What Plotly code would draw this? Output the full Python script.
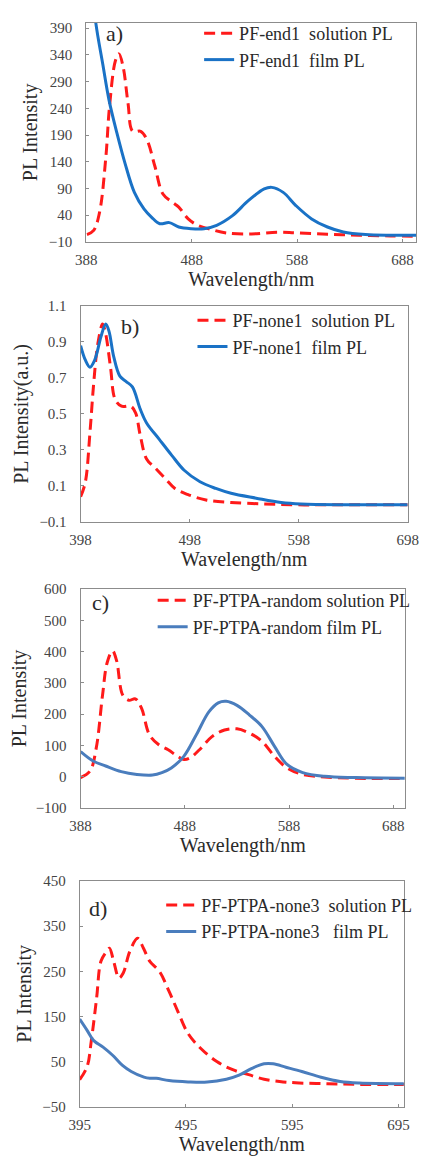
import plotly.graph_objects as go

# ---- panel a) PF-end1 ----
a_sol_x = [388.6, 395, 400.6, 406.6, 410, 415.6, 419, 423, 427.6, 432, 439.6, 445.6, 453, 460.7, 469.7,
           475.7, 484.7, 493.7, 505.7, 520.7, 544.8, 568.8, 586.8, 616.8, 646.9, 676.9, 701]
a_sol_y = [3.6, 11.6, 45.6, 150, 243, 329, 342, 317, 249, 197, 197, 181, 132, 79.5, 64,
           55, 33, 21, 13.5, 6.7, 4.8, 8, 6.7, 4.2, 2.3, 1.1, 0.5]
a_film_x = [393, 397, 403.6, 409.6, 417, 424.6, 433.6, 442.7, 450, 457.7, 466.7, 475.7, 487.7, 499.7,
            511.7, 526.7, 541.7, 556.8, 564, 574.8, 586.8, 601.8, 616.8, 631.8, 652.9, 676.9, 701]
a_film_y = [480, 400, 323, 255, 194, 138, 82.6, 51.7, 36, 24, 26, 17.8, 14.7, 14.7,
            21, 39, 67, 89, 92, 82.6, 58, 33, 17.8, 8.5, 3.6, 2.3, 2.3]

# ---- panel b) PF-none1 ----
b_sol_x = [398, 402.3, 406.6, 410, 413.8, 418.2, 421, 425.4, 429.7, 435.5, 444, 448.4, 452.8, 458.5,
           467, 475.8, 484.5, 496, 513, 536, 565, 594, 623, 698]
b_sol_y = [0.04, 0.12, 0.40, 0.67, 0.89, 1.0, 0.945, 0.76, 0.58, 0.543, 0.543, 0.506, 0.378, 0.25,
           0.196, 0.14, 0.086, 0.053, 0.022, 0.008, 0.0, -0.005, -0.005, -0.005]
b_film_x = [398, 402.3, 406.6, 411, 416.7, 421, 424, 428.3, 434, 439.8, 445.5, 452.8, 458.5, 470,
            481.6, 493, 507.5, 522, 536, 559, 582, 600, 698]
b_film_y = [0.88, 0.80, 0.76, 0.80, 0.93, 1.0, 0.96, 0.82, 0.71, 0.68, 0.65, 0.525, 0.45, 0.36,
            0.27, 0.187, 0.123, 0.086, 0.059, 0.032, 0.008, 0.0, -0.005]

# ---- panel c) PF-PTPA-random ----
c_sol_x = [388, 397, 403, 409, 413.5, 418.6, 422.5, 428.5, 434.5, 440.5, 446.5, 454, 463, 472, 481,
           487, 493, 502, 514, 526, 538, 550, 562, 574, 586, 601, 622, 652, 699]
c_sol_y = [-3, 18, 92, 260, 365, 402, 371, 260, 244, 249, 218, 134, 102, 86, 65,
           55, 60, 86, 128, 149, 153, 139, 113, 65, 28, 7, -1, -5, -6]
c_film_x = [388, 400, 412, 427, 442, 457, 466, 475, 487, 499, 511, 520, 527.6, 538, 550, 562, 574,
            586, 601, 622, 652, 699]
c_film_y = [80, 50, 34, 16, 7, 5, 13, 28, 65, 134, 207, 236, 241, 228, 197, 160, 97,
            39, 13, 1, -3, -5]

# ---- panel d) PF-PTPA-none3 ----
d_sol_x = [395, 402, 406, 411, 415, 420, 423, 427, 432, 436, 442, 449.5, 455, 461, 470, 479, 487,
           497, 509, 524, 539, 554, 568.5, 583, 598, 628, 658, 700]
d_sol_y = [10, 39, 97, 192, 272, 293, 301, 272, 235, 246, 293, 323, 301, 272, 250, 206, 163,
           112, 79, 50, 32, 21, 11, 6, 3, 1, -0.5, -1]
d_film_x = [395, 402, 408, 417, 426, 435, 443.5, 455.5, 461, 467, 479, 497, 515, 533, 545, 557,
            568.5, 577, 589, 604, 622, 640, 658, 700]
d_film_y = [144, 119, 97, 82, 64, 42, 28, 15.5, 13, 13, 8, 5, 4.6, 11, 20, 35,
            45, 45, 37.5, 28, 15.5, 6, 2.5, 1]

panels = [
    dict(tag="a)", sol=(a_sol_x, a_sol_y), film=(a_film_x, a_film_y),
         names=("PF-end1  solution PL", "PF-end1  film PL"), blue="#1a72c6",
         xr=[388, 701], x0=388, yr=[-10, 400], y0=-10, dy=50,
         ytitle="PL Intensity", xdom=[79, 427], ydom=[15, 237],
         leg=(198, 7), tagpos=(98, 26)),
    dict(tag="b)", sol=(b_sol_x, b_sol_y), film=(b_film_x, b_film_y),
         names=("PF-none1  solution PL", "PF-none1  film PL"), blue="#1a72c6",
         xr=[398, 698], x0=398, yr=[-0.1, 1.1], y0=-0.1, dy=0.2,
         ytitle="PL Intensity(a.u.)", xdom=[73, 418], ydom=[302, 521],
         leg=(191, 298), tagpos=(113, 323)),
    dict(tag="c)", sol=(c_sol_x, c_sol_y), film=(c_film_x, c_film_y),
         names=("PF-PTPA-random solution PL", "PF-PTPA-random film PL"), blue="#4a7dbd",
         xr=[388, 699], x0=388, yr=[-100, 600], y0=-100, dy=100,
         ytitle="PL Intensity", xdom=[73, 415], ydom=[589, 811],
         leg=(149, 582), tagpos=(83, 603)),
    dict(tag="d)", sol=(d_sol_x, d_sol_y), film=(d_film_x, d_film_y),
         names=("PF-PTPA-none3  solution PL", "PF-PTPA-none3   film PL"), blue="#4a7dbd",
         xr=[395, 700], x0=395, yr=[-50, 450], y0=-50, dy=100,
         ytitle="PL Intensity", xdom=[72, 414], ydom=[885, 1114],
         leg=(158, 891), tagpos=(80, 913)),
]

# the page body has an 8px margin, so the figure is shifted by that much
OFF = 8
W, H = 431 - OFF, 1169 - OFF
FONT = "Liberation Serif"


def px(v):
    return (v - OFF) / W


def py(v):
    return 1 - (v - OFF) / H


fig = go.Figure()
layout = dict(width=W, height=H, margin=dict(l=0, r=0, t=0, b=0),
              paper_bgcolor="white", plot_bgcolor="white", showlegend=True,
              font=dict(family=FONT, color="#333333"))
annotations = []

for i, p in enumerate(panels):
    k = "" if i == 0 else str(i + 1)
    leg = "legend" + k
    fig.add_trace(go.Scatter(x=p["sol"][0], y=p["sol"][1], mode="lines", name=p["names"][0],
                             line=dict(color="#ff1a1a", width=3, dash="11px,6px", shape="spline"),
                             xaxis="x" + k, yaxis="y" + k, legend=leg))
    fig.add_trace(go.Scatter(x=p["film"][0], y=p["film"][1], mode="lines", name=p["names"][1],
                             line=dict(color=p["blue"], width=3, shape="spline"),
                             xaxis="x" + k, yaxis="y" + k, legend=leg))
    layout["xaxis" + k] = dict(
        domain=[px(p["xdom"][0]), px(p["xdom"][1])], range=p["xr"], anchor="y" + k,
        tickmode="linear", tick0=p["x0"], dtick=100, showgrid=False, zeroline=False,
        showline=True, linecolor="#8c8c8c", linewidth=1, mirror=True,
        ticks="inside", ticklen=3, tickcolor="#8c8c8c", ticklabelstandoff=4,
        tickfont=dict(family=FONT, size=15, color="#444444"),
        title=dict(text="Wavelength/nm", font=dict(family=FONT, size=20, color="#2a2a2a"), standoff=2))
    layout["yaxis" + k] = dict(
        domain=[py(p["ydom"][1]), py(p["ydom"][0])], range=p["yr"], anchor="x" + k,
        tickmode="linear", tick0=p["y0"], dtick=p["dy"], showgrid=False, zeroline=False,
        showline=True, linecolor="#8c8c8c", linewidth=1, mirror=True,
        ticks="inside", ticklen=3, tickcolor="#8c8c8c", ticklabelstandoff=10,
        tickfont=dict(family=FONT, size=15, color="#444444"),
        title=dict(text=p["ytitle"], font=dict(family=FONT, size=20, color="#2a2a2a"), standoff=5))
    layout[leg] = dict(x=px(p["leg"][0]), y=py(p["leg"][1]), xanchor="left", yanchor="top",
                       bgcolor="rgba(0,0,0,0)", tracegroupgap=0, itemwidth=30,
                       font=dict(family=FONT, size=18, color="#2a2a2a"))
    annotations.append(dict(text=p["tag"], xref="paper", yref="paper",
                            x=px(p["tagpos"][0]), y=py(p["tagpos"][1]),
                            xanchor="left", yanchor="middle", showarrow=False,
                            font=dict(family=FONT, size=22, color="#2a2a2a")))

layout["annotations"] = annotations
fig.update_layout(**layout)
fig.write_html("out.html")
